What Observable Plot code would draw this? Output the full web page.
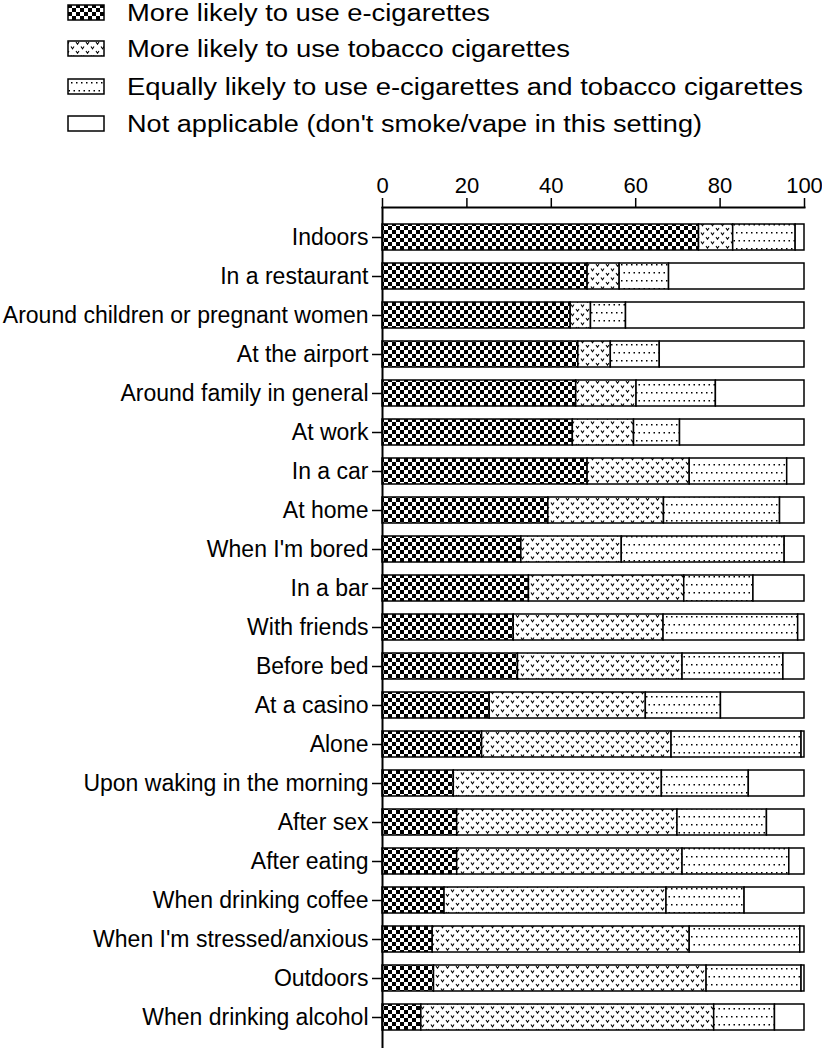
<!DOCTYPE html>
<html><head><meta charset="utf-8">
<script src="https://cdn.jsdelivr.net/npm/d3@7"></script>
<script src="https://cdn.jsdelivr.net/npm/@observablehq/plot@0.6"></script>
<style>body{margin:0;background:#fff;font-family:"Liberation Sans",Arial,sans-serif}#chart svg{display:block}</style>
</head><body><div id="chart"></div>
<script>
const categories = ["Indoors","In a restaurant","Around children or pregnant women","At the airport","Around family in general","At work","In a car","At home","When I'm bored","In a bar","With friends","Before bed","At a casino","Alone","Upon waking in the morning","After sex","After eating","When drinking coffee","When I'm stressed/anxious","Outdoors","When drinking alcohol"];
const eCig = [75.0,48.6,44.6,46.4,45.9,45.1,48.6,39.3,32.9,34.7,31.1,32.1,25.4,23.6,16.9,17.7,17.7,14.7,11.9,12.2,9.2];
const tobacco = [8.1,7.6,4.8,7.7,14.3,14.5,24.2,27.4,23.8,36.8,35.5,39.0,37.0,44.9,49.3,52.2,53.4,52.6,60.9,64.6,69.4];
const equally = [14.8,11.7,8.3,11.6,18.8,10.9,23.1,27.5,38.6,16.4,31.9,23.9,17.8,30.8,20.6,21.2,25.3,18.5,26.2,22.5,14.4];
const notApplicable = [2.1,32.1,42.3,34.3,21.0,29.5,4.1,5.8,4.7,12.1,1.5,5.0,19.8,0.7,13.2,8.9,3.6,14.2,1.0,0.7,7.0];
const seriesNames = ["More likely to use e-cigarettes","More likely to use tobacco cigarettes","Equally likely to use e-cigarettes and tobacco cigarettes","Not applicable (don't smoke/vape in this setting)"];
const xTicks = [0,20,40,60,80,100];

const fills = ["url(#pat0)","url(#pat1)","url(#pat2)","#ffffff"];
const W = 822, legendH = 150;
const root = d3.select("#chart");
const leg = root.append("svg").attr("width", W).attr("height", legendH);
const defs = leg.append("defs");
function pattern(id, w, h) {
  const p = defs.append("pattern").attr("id", id).attr("patternUnits", "userSpaceOnUse").attr("width", w).attr("height", h);
  p.append("rect").attr("width", w).attr("height", h).attr("fill", "#fff");
  return p;
}
const p0 = pattern("pat0", 8, 8);
p0.append("rect").attr("width", 4).attr("height", 4).attr("fill", "#000");
p0.append("rect").attr("x", 4).attr("y", 4).attr("width", 4).attr("height", 4).attr("fill", "#000");
const p1 = pattern("pat1", 10, 9);
p1.append("path").attr("d", "M1,1.5 l1.5,2.2 l1.5,-2.2 M6,6 l1.5,2.2 l1.5,-2.2").attr("fill", "none").attr("stroke", "#000").attr("stroke-width", 1.1);
const p2 = pattern("pat2", 10, 16);
[[1,2],[6,2],[3.5,10],[8.5,10]].forEach(([x,y]) => p2.append("rect").attr("x", x).attr("y", y).attr("width", 1.5).attr("height", 1.5).attr("fill", "#000"));

const baseY = [21, 57, 95, 132];
const textLen = [363, 443, 676, 575];
seriesNames.forEach((name, i) => {
  leg.append("rect").attr("x", 68).attr("y", baseY[i] - 16).attr("width", 36).attr("height", 15)
    .attr("fill", fills[i]).attr("stroke", "#000").attr("stroke-width", 1.5);
  leg.append("text").attr("x", 127).attr("y", baseY[i]).attr("font-size", 23)
    .attr("font-family", "Liberation Sans, Arial, sans-serif").attr("fill", "#000")
    .attr("textLength", textLen[i]).attr("lengthAdjust", "spacingAndGlyphs").text(name);
});

const data = [];
categories.forEach((c, i) => {
  [eCig, tobacco, equally, notApplicable].forEach((arr, s) => data.push({category: c, series: s, value: arr[i]}));
});

const chart = Plot.plot({
  width: 822, height: 900,
  marginTop: 57, marginBottom: 2, marginLeft: 382, marginRight: 18,
  style: {fontFamily: "Liberation Sans, Arial, sans-serif", color: "#000", background: "#fff"},
  x: {domain: [0, 100], axis: null},
  y: {domain: categories, paddingInner: 0.325, paddingOuter: 0.175, axis: null},
  color: {type: "identity"},
  marks: [
    Plot.barX(data, Plot.stackX({x: "value", y: "category", fill: d => fills[d.series], stroke: "#000", strokeWidth: 1.5})),
    Plot.axisX({anchor: "top", ticks: xTicks, tickSize: 10, tickPadding: 5, fontSize: 22, label: null, strokeWidth: 1.5}),
    Plot.axisY({tickSize: 10, tickPadding: 4, fontSize: 23, label: null, strokeWidth: 1.5}),
    Plot.ruleX([0], {strokeWidth: 2}),
    Plot.frame({anchor: "top", strokeWidth: 2})
  ]
});
root.node().appendChild(chart);
</script>
</body></html>
